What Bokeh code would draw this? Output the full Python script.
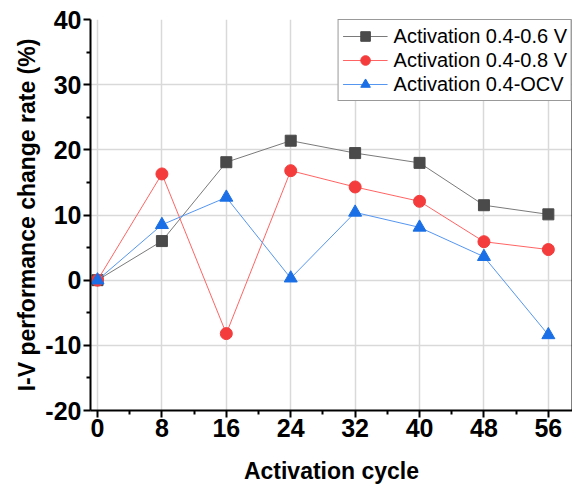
from bokeh.plotting import figure
from bokeh.models import LinearAxis, FixedTicker, Range1d, Legend, LegendItem
from bokeh.embed import file_html
from bokeh.resources import INLINE

cycles = [0, 8, 16, 24, 32, 40, 48, 56]
act_06 = [0, 6.0, 18.1, 21.4, 19.5, 18.0, 11.5, 10.1]
act_08 = [0, 16.3, -8.2, 16.8, 14.3, 12.1, 5.9, 4.7]
act_ocv = [0, 8.5, 12.7, 0.3, 10.4, 8.1, 3.6, -8.4]
x_ticks = [0, 8, 16, 24, 32, 40, 48, 56]
y_ticks = [-20, -10, 0, 10, 20, 30, 40]

FONT = "Liberation Sans"

p = figure(width=572, height=486, output_backend="svg", toolbar_location=None,
           x_range=Range1d(-0.87, 59.0), y_range=Range1d(-20, 40),
           min_border_left=90, min_border_top=19, min_border_right=0, min_border_bottom=10)
p.outline_line_color = None
p.background_fill_color = "white"
p.border_fill_color = "white"

for ax, ticks, minor in ((p.xaxis[0], x_ticks, [4, 12, 20, 28, 36, 44, 52]),
                         (p.yaxis[0], y_ticks, [-15, -5, 5, 15, 25, 35])):
    ax.ticker = FixedTicker(ticks=ticks, minor_ticks=minor)
    ax.axis_line_width = 2
    ax.axis_line_color = "black"
    ax.major_tick_line_width = 2
    ax.minor_tick_line_width = 2
    ax.major_tick_in = 0
    ax.major_tick_out = 7
    ax.minor_tick_in = 0
    ax.minor_tick_out = 4
    ax.major_label_text_font = FONT
    ax.major_label_text_font_style = "bold"
    ax.major_label_text_font_size = "25px"
    ax.major_label_text_color = "black"
    ax.axis_label_text_font = FONT
    ax.axis_label_text_font_style = "bold"
    ax.axis_label_text_font_size = "23px"
    ax.axis_label_text_color = "black"

p.yaxis.major_label_overrides = {t: str(t) for t in y_ticks}
p.xaxis.axis_label = "Activation cycle"
p.yaxis.axis_label = "I-V performance change rate (%)"
p.xaxis.major_label_standoff = 1
p.xaxis.axis_label_standoff = 18
p.yaxis.major_label_standoff = 2
p.yaxis.axis_label_standoff = 2

p.xgrid.ticker = FixedTicker(ticks=x_ticks)
p.ygrid.ticker = FixedTicker(ticks=y_ticks)
p.grid.grid_line_color = "#d9d9d9"
p.grid.grid_line_width = 1.5

right = LinearAxis(ticker=FixedTicker(ticks=[]), axis_line_color="black", axis_line_width=2,
                   major_tick_out=0, minor_tick_out=0,
                   major_label_text_font_size="0px", major_label_standoff=0)
p.add_layout(right, "right")

series = [
    ("Activation 0.4-0.6 V", act_06, "#7a7a7a", "#4a4a4a", "square", 11),
    ("Activation 0.4-0.8 V", act_08, "#ff6464", "#f43c3c", "circle", 12),
    ("Activation 0.4-OCV", act_ocv, "#5596f0", "#1a6fe6", "triangle", 13),
]
items = []
for label, ys, lc, mc, marker, size in series:
    l = p.line(cycles, ys, line_color=lc, line_width=1)
    s = p.scatter(cycles, ys, marker=marker, size=size, fill_color=mc, line_color=mc)
    items.append(LegendItem(label=label, renderers=[l, s]))

legend = Legend(items=items, location="top_right")
legend.label_text_font = FONT
legend.label_text_font_size = "20px"
legend.label_text_color = "black"
legend.glyph_width = 45
legend.glyph_height = 24
legend.spacing = 0
legend.padding = 4
legend.margin = 0
legend.label_standoff = 6
legend.label_height = 24
legend.border_line_color = "#333333"
legend.border_line_width = 1.5
legend.background_fill_alpha = 1
p.add_layout(legend)

open("out.html", "w").write(file_html(p, INLINE))
